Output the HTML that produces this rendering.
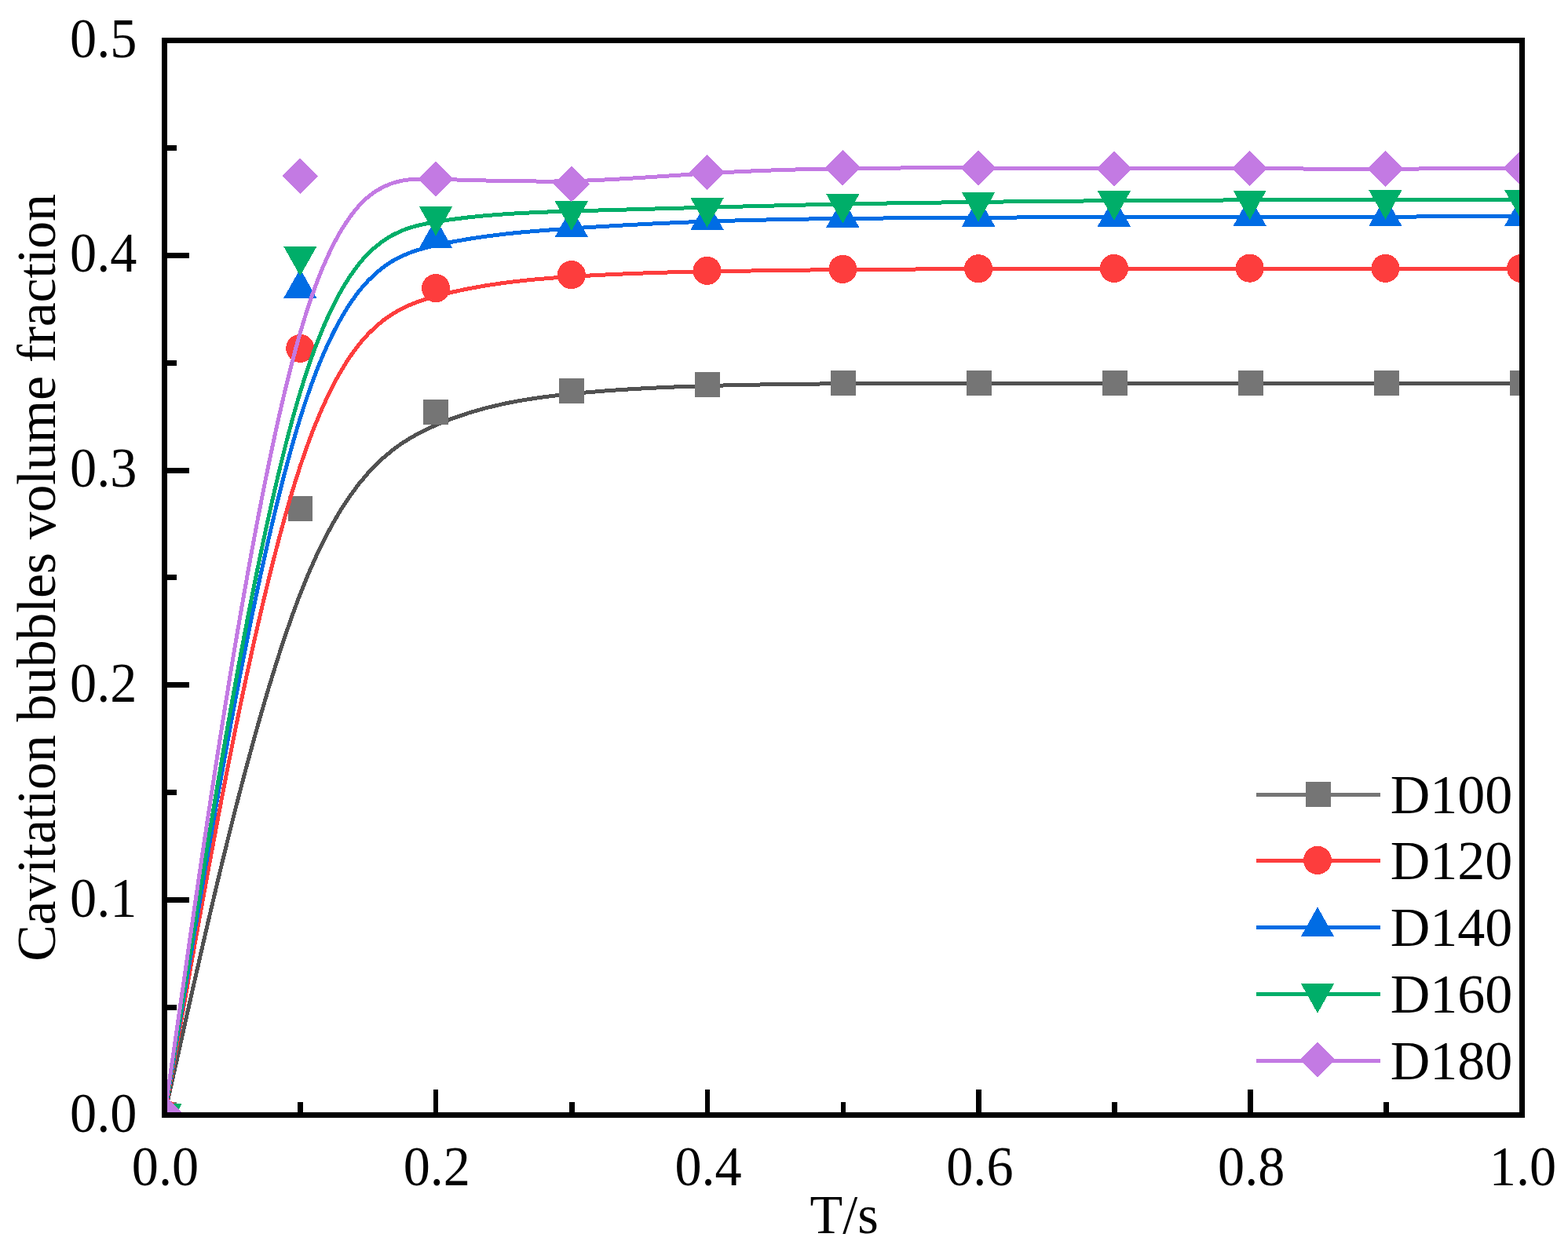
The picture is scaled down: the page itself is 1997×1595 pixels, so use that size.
<!DOCTYPE html>
<html lang="en"><head><meta charset="utf-8"><title>Cavitation bubbles volume fraction</title>
<style>html,body{margin:0;padding:0;background:#fff}svg{display:block}text{font-family:"Liberation Serif", serif;font-size:70px;fill:#000}</style></head><body>
<svg width="1997" height="1595" viewBox="0 0 1997 1595">
<rect x="0" y="0" width="1997" height="1595" fill="#fff"/>
<defs><clipPath id="plot"><rect x="209.5" y="51.5" width="1729" height="1369"/></clipPath></defs>
<g clip-path="url(#plot)" shape-rendering="crispEdges">
<path d="M209.5 1420.5 C209.5 1420.5 209.5 1420.5 238.32 1291.83 C267.13 1163.17 324.77 905.83 382.4 756.67 C440.03 607.5 497.67 566.5 555.3 541.5 C612.93 516.5 670.57 507.5 728.2 501.68 C785.83 495.85 843.47 493.2 901.1 491.52 C958.73 489.85 1016.37 489.15 1074 488.8 C1131.63 488.45 1189.27 488.45 1246.9 488.45 C1304.53 488.45 1362.17 488.45 1419.8 488.47 C1477.43 488.48 1535.07 488.52 1592.7 488.53 C1650.33 488.55 1707.97 488.55 1765.6 488.55 C1823.23 488.55 1880.87 488.55 1909.68 488.55 C1938.5 488.55 1938.5 488.55 1938.5 488.55" fill="none" stroke="#515151" stroke-width="5.0" stroke-linejoin="round"/>
<rect x="193.6" y="1404.1" width="31.8" height="31.8" fill="#757575"/>
<rect x="366.5" y="632.05" width="31.8" height="31.8" fill="#757575"/>
<rect x="539.4" y="509.05" width="31.8" height="31.8" fill="#757575"/>
<rect x="712.3" y="482.05" width="31.8" height="31.8" fill="#757575"/>
<rect x="885.2" y="474.1" width="31.8" height="31.8" fill="#757575"/>
<rect x="1058.1" y="472" width="31.8" height="31.8" fill="#757575"/>
<rect x="1231" y="472" width="31.8" height="31.8" fill="#757575"/>
<rect x="1403.9" y="472" width="31.8" height="31.8" fill="#757575"/>
<rect x="1576.8" y="472.1" width="31.8" height="31.8" fill="#757575"/>
<rect x="1749.7" y="472.1" width="31.8" height="31.8" fill="#757575"/>
<rect x="1922.6" y="472.1" width="31.8" height="31.8" fill="#757575"/>
<path d="M209.5 1420.5 C209.5 1420.5 209.5 1420.5 238.29 1257.77 C267.09 1095.05 324.68 769.6 382.27 594.09 C439.86 418.58 497.45 393.02 555.04 377.4 C612.63 361.78 670.22 356.12 727.81 352.41 C785.4 348.7 842.99 346.95 900.58 345.75 C958.17 344.55 1015.76 343.9 1073.35 343.46 C1130.94 343.02 1188.53 342.78 1246.12 342.61 C1303.71 342.43 1361.3 342.32 1418.89 342.22 C1476.48 342.12 1534.07 342.03 1591.66 342.03 C1649.25 342.03 1706.84 342.12 1764.43 342.16 C1822.02 342.2 1879.61 342.2 1908.4 342.2 C1937.2 342.2 1937.2 342.2 1937.2 342.2" fill="none" stroke="#FD3D3D" stroke-width="5.0" stroke-linejoin="round"/>
<circle cx="210.3" cy="1419.2" r="18.05" fill="#FD3D3D"/>
<circle cx="382.27" cy="443.85" r="18.05" fill="#FD3D3D"/>
<circle cx="555.04" cy="367.15" r="18.05" fill="#FD3D3D"/>
<circle cx="727.81" cy="350.15" r="18.05" fill="#FD3D3D"/>
<circle cx="900.58" cy="344.9" r="18.05" fill="#FD3D3D"/>
<circle cx="1073.35" cy="342.95" r="18.05" fill="#FD3D3D"/>
<circle cx="1246.12" cy="342.25" r="18.05" fill="#FD3D3D"/>
<circle cx="1418.89" cy="341.9" r="18.05" fill="#FD3D3D"/>
<circle cx="1591.66" cy="341.65" r="18.05" fill="#FD3D3D"/>
<circle cx="1764.43" cy="341.9" r="18.05" fill="#FD3D3D"/>
<circle cx="1937.2" cy="341.9" r="18.05" fill="#FD3D3D"/>
<path d="M209.5 1420.5 C209.5 1420.5 209.5 1420.5 238.29 1245.12 C267.09 1069.73 324.68 718.97 382.27 532.9 C439.86 346.83 497.45 325.47 555.04 312.47 C612.63 299.47 670.22 294.83 727.81 291 C785.4 287.17 842.99 284.13 900.58 282.12 C958.17 280.1 1015.76 279.1 1073.35 278.4 C1130.94 277.7 1188.53 277.3 1246.12 277.1 C1303.71 276.9 1361.3 276.9 1418.89 276.78 C1476.48 276.67 1534.07 276.43 1591.66 276.33 C1649.25 276.23 1706.84 276.27 1764.43 276.15 C1822.02 276.03 1879.61 275.77 1908.4 275.63 C1937.2 275.5 1937.2 275.5 1937.2 275.5" fill="none" stroke="#006CE4" stroke-width="5.0" stroke-linejoin="round"/>
<polygon points="209.5,1394.1 230.7,1431.8 188.3,1431.8" fill="#006CE4"/>
<polygon points="382.27,342.3 403.47,380 361.07,380" fill="#006CE4"/>
<polygon points="555.04,278.2 576.24,315.9 533.84,315.9" fill="#006CE4"/>
<polygon points="727.81,264.3 749.01,302 706.61,302" fill="#006CE4"/>
<polygon points="900.58,255.2 921.78,292.9 879.38,292.9" fill="#006CE4"/>
<polygon points="1073.35,252.2 1094.55,289.9 1052.15,289.9" fill="#006CE4"/>
<polygon points="1246.12,251 1267.32,288.7 1224.92,288.7" fill="#006CE4"/>
<polygon points="1418.89,251 1440.09,288.7 1397.69,288.7" fill="#006CE4"/>
<polygon points="1591.66,250.3 1612.86,288 1570.46,288" fill="#006CE4"/>
<polygon points="1764.43,250.4 1785.63,288.1 1743.23,288.1" fill="#006CE4"/>
<polygon points="1937.2,250.4 1958.4,288.1 1916,288.1" fill="#006CE4"/>
<path d="M209.5 1420.5 C209.5 1420.5 209.5 1420.5 238.29 1238.1 C267.09 1055.7 324.68 690.9 382.27 500.03 C439.86 309.17 497.45 292.23 555.04 282.63 C612.63 273.03 670.22 270.77 727.81 268.95 C785.4 267.13 842.99 265.77 900.58 264.23 C958.17 262.7 1015.76 261 1073.35 259.82 C1130.94 258.63 1188.53 257.97 1246.12 257.32 C1303.71 256.67 1361.3 256.03 1418.89 255.63 C1476.48 255.23 1534.07 255.07 1591.66 254.9 C1649.25 254.73 1706.84 254.57 1764.43 254.45 C1822.02 254.33 1879.61 254.27 1908.4 254.23 C1937.2 254.2 1937.2 254.2 1937.2 254.2" fill="none" stroke="#00AE69" stroke-width="5.0" stroke-linejoin="round"/>
<polygon points="210.5,1443.8 231.7,1406.1 189.3,1406.1" fill="#00AE69"/>
<polygon points="382.27,351.5 403.47,313.8 361.07,313.8" fill="#00AE69"/>
<polygon points="555.04,300.7 576.24,263 533.84,263" fill="#00AE69"/>
<polygon points="727.81,293.9 749.01,256.2 706.61,256.2" fill="#00AE69"/>
<polygon points="900.58,289.8 921.78,252.1 879.38,252.1" fill="#00AE69"/>
<polygon points="1073.35,284.7 1094.55,247 1052.15,247" fill="#00AE69"/>
<polygon points="1246.12,282.7 1267.32,245 1224.92,245" fill="#00AE69"/>
<polygon points="1418.89,280.8 1440.09,243.1 1397.69,243.1" fill="#00AE69"/>
<polygon points="1591.66,280.3 1612.86,242.6 1570.46,242.6" fill="#00AE69"/>
<polygon points="1764.43,279.8 1785.63,242.1 1743.23,242.1" fill="#00AE69"/>
<polygon points="1937.2,279.6 1958.4,241.9 1916,241.9" fill="#00AE69"/>
<path d="M209.5 1420.5 C209.5 1420.5 209.5 1420.5 238.29 1221.12 C267.09 1021.73 324.68 622.97 382.27 424.17 C439.86 225.37 497.45 226.53 555.04 228.22 C612.63 229.9 670.22 232.1 727.81 230.7 C785.4 229.3 842.99 224.3 900.58 220.87 C958.17 217.43 1015.76 215.57 1073.35 214.67 C1130.94 213.77 1188.53 213.83 1246.12 214.01 C1303.71 214.18 1361.3 214.47 1418.89 214.58 C1476.48 214.7 1534.07 214.65 1591.66 214.79 C1649.25 214.93 1706.84 215.27 1764.43 215.22 C1822.02 215.17 1879.61 214.73 1908.4 214.52 C1937.2 214.3 1937.2 214.3 1937.2 214.3" fill="none" stroke="#C37AE3" stroke-width="5.0" stroke-linejoin="round"/>
<polygon points="209.5,1395.4 232.2,1418.1 209.5,1440.8 186.8,1418.1" fill="#C37AE3"/>
<polygon points="382.27,201.7 404.97,224.4 382.27,247.1 359.57,224.4" fill="#C37AE3"/>
<polygon points="555.04,205.2 577.74,227.9 555.04,250.6 532.34,227.9" fill="#C37AE3"/>
<polygon points="727.81,211.8 750.51,234.5 727.81,257.2 705.11,234.5" fill="#C37AE3"/>
<polygon points="900.58,196.8 923.28,219.5 900.58,242.2 877.88,219.5" fill="#C37AE3"/>
<polygon points="1073.35,191.2 1096.05,213.9 1073.35,236.6 1050.65,213.9" fill="#C37AE3"/>
<polygon points="1246.12,191.4 1268.82,214.1 1246.12,236.8 1223.42,214.1" fill="#C37AE3"/>
<polygon points="1418.89,192.25 1441.59,214.95 1418.89,237.65 1396.19,214.95" fill="#C37AE3"/>
<polygon points="1591.66,191.7 1614.36,214.4 1591.66,237.1 1568.96,214.4" fill="#C37AE3"/>
<polygon points="1764.43,192.3 1787.13,215 1764.43,237.7 1741.73,215" fill="#C37AE3"/>
<polygon points="1937.2,191.8 1959.9,214.5 1937.2,237.2 1914.5,214.5" fill="#C37AE3"/>
</g>
<g fill="#000" shape-rendering="crispEdges">
<rect x="379" y="1404" width="7" height="14"/>
<rect x="552" y="1388" width="6" height="30"/>
<rect x="725" y="1404" width="7" height="14"/>
<rect x="898" y="1388" width="6" height="30"/>
<rect x="1071" y="1404" width="6" height="14"/>
<rect x="1243" y="1388" width="7" height="30"/>
<rect x="1416" y="1404" width="7" height="14"/>
<rect x="1589" y="1388" width="7" height="30"/>
<rect x="1762" y="1404" width="7" height="14"/>
<rect x="212" y="1280" width="13" height="7"/>
<rect x="212" y="1143" width="29" height="7"/>
<rect x="212" y="1006" width="13" height="7"/>
<rect x="212" y="869" width="29" height="7"/>
<rect x="212" y="732" width="13" height="7"/>
<rect x="212" y="596" width="29" height="7"/>
<rect x="212" y="459" width="13" height="7"/>
<rect x="212" y="322" width="29" height="7"/>
<rect x="212" y="185" width="13" height="7"/>
<rect x="209.5" y="51.5" width="1729" height="1369" fill="none" stroke="#000" stroke-width="7"/>
</g>
<g>
<text transform="translate(89.1 1441.6) scale(0.975 1.025)">0.0</text>
<text transform="translate(89.1 1167.8) scale(0.975 1.025)">0.1</text>
<text transform="translate(89.1 894) scale(0.975 1.025)">0.2</text>
<text transform="translate(89.1 620.2) scale(0.975 1.025)">0.3</text>
<text transform="translate(89.1 346.4) scale(0.975 1.025)">0.4</text>
<text transform="translate(89.1 72.6) scale(0.975 1.025)">0.5</text>
<text transform="translate(210.5 1509.5) scale(0.975 1.025)" text-anchor="middle">0.0</text>
<text transform="translate(556.3 1509.5) scale(0.975 1.025)" text-anchor="middle">0.2</text>
<text transform="translate(902.1 1509.5) scale(0.975 1.025)" text-anchor="middle">0.4</text>
<text transform="translate(1247.9 1509.5) scale(0.975 1.025)" text-anchor="middle">0.6</text>
<text transform="translate(1593.7 1509.5) scale(0.975 1.025)" text-anchor="middle">0.8</text>
<text transform="translate(1939.5 1509.5) scale(0.975 1.025)" text-anchor="middle">1.0</text>
<text transform="translate(1031.6 1570.8) scale(0.975 1)">T/s</text>
<text transform="translate(70 1224.8) rotate(-90)" textLength="977.8" lengthAdjust="spacing">Cavitation bubbles volume fraction</text>
</g>
<g>
<g shape-rendering="crispEdges"><rect x="1600" y="1010" width="158" height="5" fill="#757575"/>
<rect x="1663.1" y="996" width="31.8" height="31.8" fill="#757575"/></g>
<text x="1770.8" y="1036.1">D100</text>
<g shape-rendering="crispEdges"><rect x="1600" y="1094" width="158" height="5" fill="#FD3D3D"/>
<circle cx="1678" cy="1095.9" r="18.05" fill="#FD3D3D"/></g>
<text x="1770.8" y="1120.1">D120</text>
<g shape-rendering="crispEdges"><rect x="1600" y="1179" width="158" height="5" fill="#006CE4"/>
<polygon points="1678,1155.4 1699.2,1193.1 1656.8,1193.1" fill="#006CE4"/></g>
<text x="1770.8" y="1205.1">D140</text>
<g shape-rendering="crispEdges"><rect x="1600" y="1264" width="158" height="5" fill="#00AE69"/>
<polygon points="1678,1290.8 1699.2,1253.1 1656.8,1253.1" fill="#00AE69"/></g>
<text x="1770.8" y="1290.1">D160</text>
<g shape-rendering="crispEdges"><rect x="1600" y="1349" width="158" height="5" fill="#C37AE3"/>
<polygon points="1678,1327.3 1700.7,1350 1678,1372.7 1655.3,1350" fill="#C37AE3"/></g>
<text x="1770.8" y="1375.1">D180</text>
</g>
</svg></body></html>
